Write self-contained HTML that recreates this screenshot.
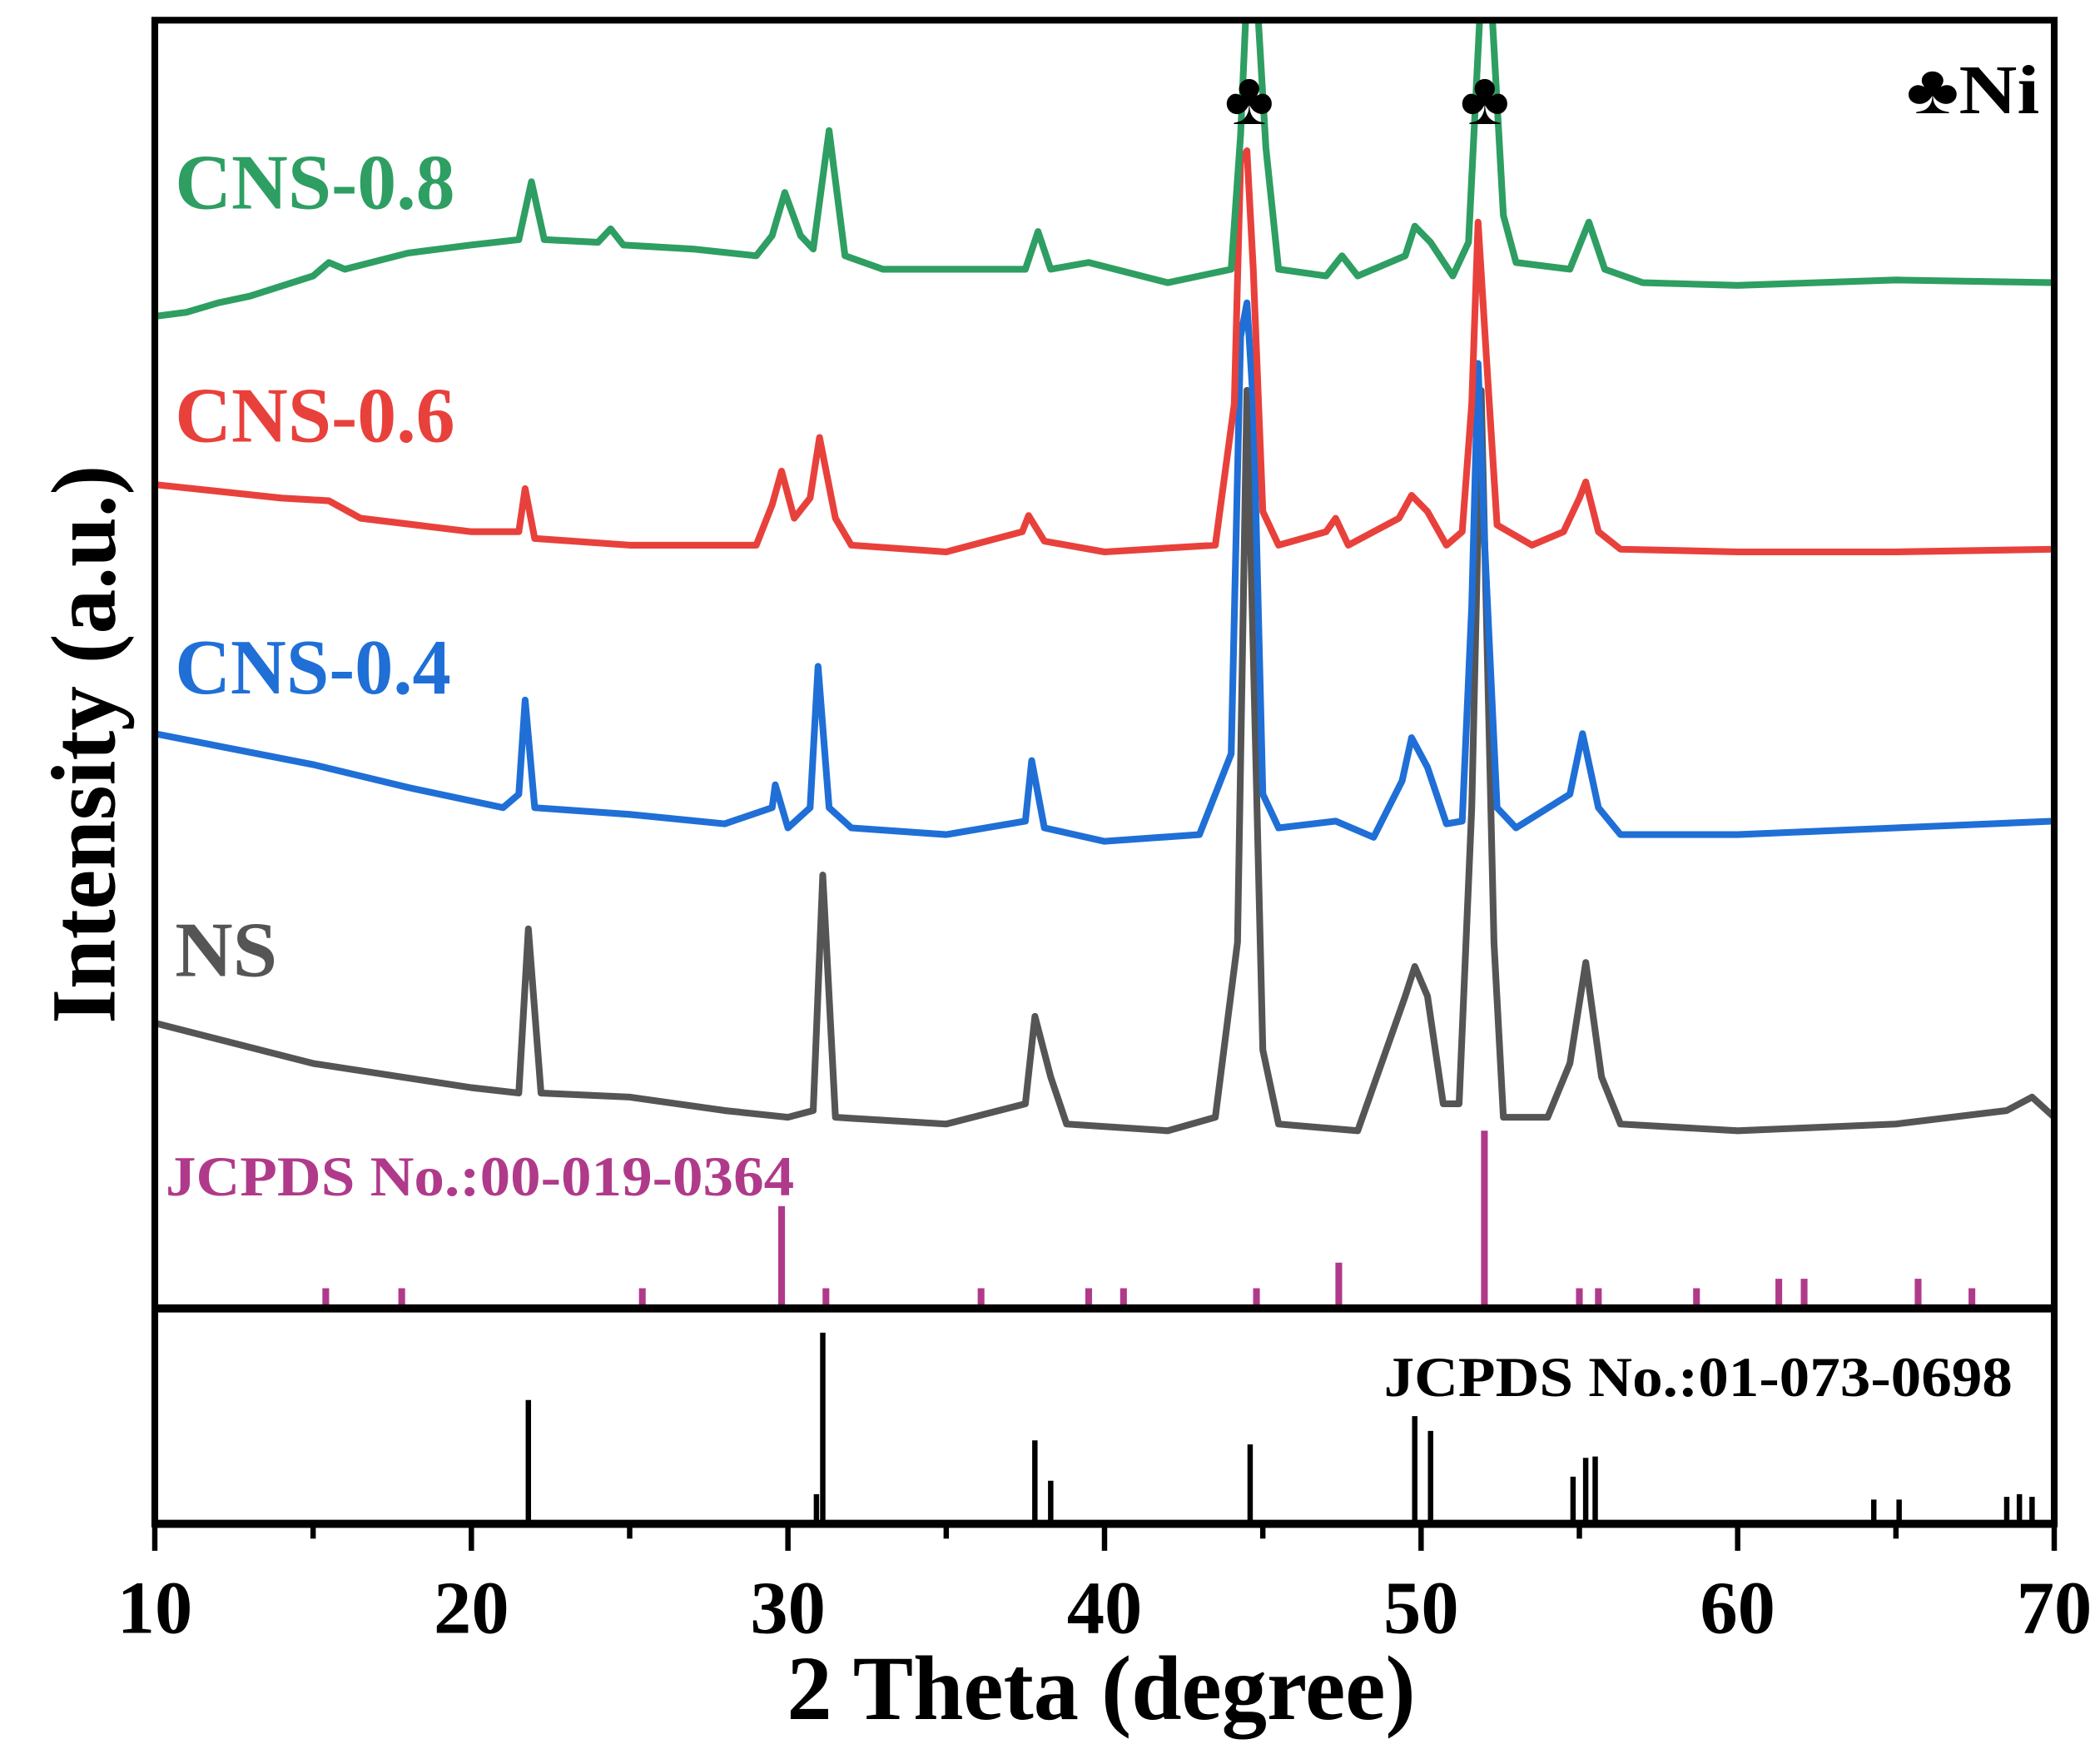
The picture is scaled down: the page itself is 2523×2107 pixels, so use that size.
<!DOCTYPE html>
<html><head><meta charset="utf-8"><style>
html,body{margin:0;padding:0;background:#fff;}
svg{display:block;}
text{font-family:"Liberation Serif",serif;font-weight:bold;}
</style></head><body>
<svg id="chart" width="2523" height="2107" viewBox="0 0 1560 1303" preserveAspectRatio="none" xmlns="http://www.w3.org/2000/svg">
<defs><clipPath id="clip"><rect x="115" y="15" width="1411" height="957"/></clipPath></defs>
<rect x="0" y="0" width="1560" height="1303" fill="#fff"/>
<g id="curves" clip-path="url(#clip)"></g>
<g id="sticks"></g>
<rect x="115" y="15" width="1411" height="1117" fill="none" stroke="#000" stroke-width="5"/>
<line x1="115" y1="972" x2="1526" y2="972" stroke="#000" stroke-width="6"/>
<line x1="113" y1="1132" x2="1528" y2="1132" stroke="#000" stroke-width="6"/>
<g id="ticks"></g>
<text x="130" y="155" font-size="58" textLength="208" lengthAdjust="spacingAndGlyphs" fill="#2e9e62">CNS-0.8</text>
<text x="130" y="328" font-size="58" textLength="208" lengthAdjust="spacingAndGlyphs" fill="#e8413c">CNS-0.6</text>
<text x="130" y="515" font-size="58" textLength="205" lengthAdjust="spacingAndGlyphs" fill="#1f6fd6">CNS-0.4</text>
<text x="130" y="725" font-size="58" textLength="76" lengthAdjust="spacingAndGlyphs" fill="#555">NS</text>
<text x="123" y="888" font-size="42" textLength="467" lengthAdjust="spacingAndGlyphs" fill="#b03a8a">JCPDS No.:00-019-0364</text>
<text x="1028" y="1037" font-size="42" textLength="467" lengthAdjust="spacingAndGlyphs" fill="#000">JCPDS No.:01-073-0698</text>
<text x="928" y="92" font-size="56" text-anchor="middle" fill="#000">♣</text>
<text x="1103" y="92" font-size="56" text-anchor="middle" fill="#000">♣</text>
<text x="1416" y="84" font-size="52" textLength="99" lengthAdjust="spacingAndGlyphs" fill="#000">♣Ni</text>
<text x="818" y="1277" font-size="68" text-anchor="middle" textLength="467" lengthAdjust="spacingAndGlyphs" fill="#000">2 Theta (degree)</text>
<text transform="translate(85,553) rotate(-90)" font-size="68" text-anchor="middle" textLength="415" lengthAdjust="spacingAndGlyphs" fill="#000">Intensity (a.u.)</text>
</svg>
<script>
const nsX=[10,15,20,21.5,21.8,22.2,25,28,30,30.8,31.1,31.5,35,37.5,37.8,38.3,38.8,42,43.5,44.2,44.5,45,45.5,48,49.5,49.8,50.2,50.7,51.2,51.6,51.9,52.3,52.6,54,54.7,55.2,55.7,56.3,60,65,68.5,69.3,70];
const nsY=[212,182,164,160,282,160,157,147,142,147,322,142,137,152,217,172,137,132,142,272,682,192,137,132,232,254,232,152,152,372,682,272,142,142,182,257,172,137,132,137,147,157,142];
const c4X=[10,15,18,21,21.5,21.7,22,25,28,29.5,29.6,30,30.7,30.95,31.3,32,35,37.5,37.7,38.1,40,43,44,44.3,44.5,44.7,45,45.5,47.3,48.5,49.4,49.7,50.2,50.8,51.3,51.6,51.8,52,52.4,53,54.7,55.1,55.6,56.3,60,65,70];
const c4Y=[427,404,387,372,382,452,372,367,360,372,389,357,372,477,372,357,352,362,407,357,347,352,412,722,747,672,382,357,362,350,392,424,402,360,362,522,702,572,372,357,382,427,372,352,352,357,362];
const c6X=[10,14,15.5,16.5,20,21.5,21.7,22,25,29,29.5,29.8,30.2,30.7,31,31.5,32,35,37.4,37.6,38.1,40,43.5,44.1,44.3,44.5,44.7,45,45.5,47,47.3,47.7,49.3,49.7,50.2,50.8,51.3,51.6,51.8,52.1,52.4,53.5,54.5,55,55.2,55.6,56.3,60,65,70];
const c6Y=[612,602,600,587,577,577,609,572,567,567,597,622,587,602,647,587,567,562,577,589,570,562,567,672,852,860,772,592,567,577,587,567,587,604,592,567,577,672,807,692,582,567,577,602,614,577,564,562,562,564];
const c8X=[10,11,12,13,15,15.5,16,18,20,21.5,21.9,22.3,24,24.4,24.8,27,29,29.5,29.9,30.4,30.8,31.3,31.8,33,37.5,37.9,38.3,39.5,42,44,44.3,44.5,44.8,45.1,45.5,47,47.5,48,49.5,49.8,50.3,51,51.5,51.9,52.2,52.6,53,54.7,55.3,55.8,57,60,65,70];
const c8Y=[737,740,747,752,767,777,772,784,790,794,837,794,792,802,790,787,782,797,829,797,787,875,782,772,772,800,772,777,762,772,872,980,980,862,772,767,782,767,782,804,792,767,792,980,980,812,777,772,807,772,762,760,764,762];
const niPos=[15.4,17.8,25.4,29.8,31.2,36.1,39.5,40.6,44.8,47.4,52,55,55.6,58.7,61.3,62.1,65.7,67.4];
const niInt=[15,15,15,76,15,15,15,15,15,34,132,15,15,15,22,22,22,15];
const nsRefPos=[21.8,30.9,31.1,37.8,38.3,44.6,49.8,50.3,54.8,55.2,55.5,64.3,65.1,68.5,68.9,69.3];
const nsRefInt=[92,22,142,62,32,59,80,69,35,49,50,18,18,20,22,20];
const tickVals=[10,20,30,40,50,60,70];
const tickLabels=["10","20","30","40","50","60","70"];
const minorVals=[15,25,35,45,55,65];

const NS='http://www.w3.org/2000/svg';
function xs(t){return 115+(t-10)*(1411/60);}
function yUp(v){return 972-v;}
function yLow(v){return 1132-v;}
const curves=document.getElementById('curves');
function drawCurve(xa,ya,color,name){
  const p=document.createElementNS(NS,'path');
  let d='';
  for(let i=0;i<xa.length;i++){d+=(i?'L':'M')+xs(xa[i]).toFixed(1)+','+yUp(ya[i]).toFixed(1);}
  p.setAttribute('d',d);p.setAttribute('fill','none');p.setAttribute('stroke',color);
  p.setAttribute('stroke-width','5');p.setAttribute('stroke-linejoin','round');
  
  
  curves.appendChild(p);
}
drawCurve(nsX,nsY,'#555555','ns-curve');
drawCurve(c4X,c4Y,'#1f6fd6','cns-0.4-curve');
drawCurve(c6X,c6Y,'#e8413c','cns-0.6-curve');
drawCurve(c8X,c8Y,'#2e9e62','cns-0.8-curve');
const sticks=document.getElementById('sticks');
function stick(t,v,yf,base,color,w,name){
  const l=document.createElementNS(NS,'line');
  l.setAttribute('x1',xs(t));l.setAttribute('x2',xs(t));
  l.setAttribute('y1',base);l.setAttribute('y2',yf(v));
  l.setAttribute('stroke',color);l.setAttribute('stroke-width',w);
  
  
  sticks.appendChild(l);
}
niPos.forEach((t,i)=>stick(t,niInt[i],yUp,972,'#b03a8a',5,'ni-ref-stick'));
nsRefPos.forEach((t,i)=>stick(t,nsRefInt[i],yLow,1132,'#000',4,'ns-ref-stick'));
const ticks=document.getElementById('ticks');
tickVals.forEach((t,i)=>{
  const l=document.createElementNS(NS,'line');
  l.setAttribute('x1',xs(t));l.setAttribute('x2',xs(t));l.setAttribute('y1',1132);l.setAttribute('y2',1152);
  l.setAttribute('stroke','#000');l.setAttribute('stroke-width','4');
  
  
  ticks.appendChild(l);
  const tx=document.createElementNS(NS,'text');
  tx.setAttribute('x',xs(t));tx.setAttribute('y',1213);tx.setAttribute('font-size','56');
  tx.setAttribute('text-anchor','middle');tx.textContent=tickLabels[i];
  
  
  ticks.appendChild(tx);
});
minorVals.forEach(t=>{
  const l=document.createElementNS(NS,'line');
  l.setAttribute('x1',xs(t));l.setAttribute('x2',xs(t));l.setAttribute('y1',1132);l.setAttribute('y2',1143);
  l.setAttribute('stroke','#000');l.setAttribute('stroke-width','4');
  
  
  ticks.appendChild(l);
});
</script>
</body></html>
